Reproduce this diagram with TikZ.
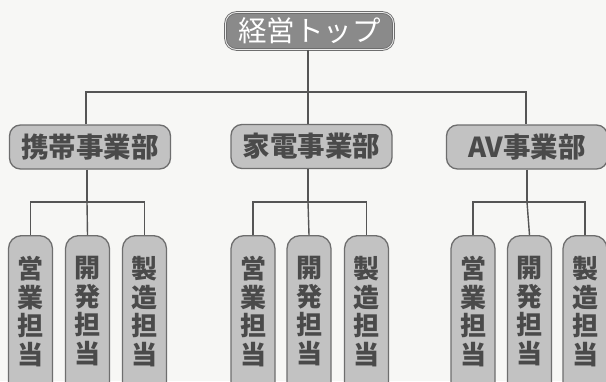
\documentclass[tikz,border=0pt]{standalone}
\usepackage{fontspec}
\newfontfamily\jp{Noto Sans CJK JP}
\definecolor{bg}{HTML}{F7F7F5}
\definecolor{topfill}{HTML}{8A8A8A}
\definecolor{boxfill}{HTML}{C2C2C2}
\definecolor{edge}{HTML}{6E6E6E}
\definecolor{ink}{HTML}{4A4A4A}
\definecolor{wire}{HTML}{555555}
\tikzset{
  topbox/.style={draw=edge, double=white!85!gray, double distance=0.8pt, line width=0.9pt, fill=topfill, rounded corners=11pt,
    minimum width=168pt, minimum height=37pt, inner sep=0pt, text=white, font=\jp\fontsize{28.5pt}{28.5pt}\selectfont},
  divbox/.style={draw=edge, line width=1.3pt, fill=boxfill, rounded corners=11pt,
    minimum width=161pt, minimum height=44pt, inner sep=0pt, text=ink, font=\jp\bfseries\fontsize{27.5pt}{27.5pt}\selectfont},
  subbox/.style={draw=edge, line width=1.3pt, fill=boxfill, rounded corners=13pt,
    minimum width=44pt, minimum height=180pt, inner sep=0pt, text=ink, anchor=north},
  wirel/.style={draw=wire, line width=1.4pt},
  vtext/.style={font=\jp\bfseries\fontsize{26pt}{28.5pt}\selectfont, text=ink, align=center, anchor=north}
}
\begin{document}
\begin{tikzpicture}[x=1pt,y=-1pt]
\useasboundingbox (0,0) rectangle (606,381);
\clip (0,0) rectangle (606,381);
\fill[bg] (0,0) rectangle (606,381);
% top
\node[topbox] (top) at (309.5,31) {経営トップ};
% divisions
\node[divbox] (d1) at (90,147) {携帯事業部};
\node[divbox] (d2) at (311.5,146.5) {家電事業部};
\node[divbox] (d3) at (527,147) {AV事業部};
% sub boxes
\foreach \g/\xa/\xb/\xc in {1/30.5/87.5/144.5, 2/253/309/366.5, 3/473/529.5/585}{
  \node[subbox] (s\g a) at (\xa,235) {};
  \node[subbox] (s\g b) at (\xb,235) {};
  \node[subbox] (s\g c) at (\xc,235) {};
  \node[vtext] (t\g a) at (\xa,253) {営\\業\\担\\当};
  \node[vtext] (t\g b) at (\xb,253) {開\\発\\担\\当};
  \node[vtext] (t\g c) at (\xc,253) {製\\造\\担\\当};
}
% connectors
\coordinate (j0) at (308,92);
\coordinate (j1) at (86,92);
\coordinate (j3) at (526,92);
\path[wirel] (top.south -| j0) -- (j0);
\path[wirel] (d1.north -| j1) -- (j1) -- (j3) -- (d3.north -| j3);
\path[wirel] (j0) -- (d2.north -| j0);
\coordinate (h1) at (87,202);
\coordinate (h2) at (308,202);
\coordinate (h3) at (527,202);
\path[wirel] (d1.south -| h1) -- (h1);
\path[wirel] (d2.south -| h2) -- (h2);
\path[wirel] (d3.south -| h3) -- (h3);
\foreach \g in {1,2,3}{
  \path[wirel] (s\g a.north) |- (h\g) -| (s\g c.north);
  \path[wirel] (h\g) -- (s\g b.north);
}
\end{tikzpicture}
\end{document}
